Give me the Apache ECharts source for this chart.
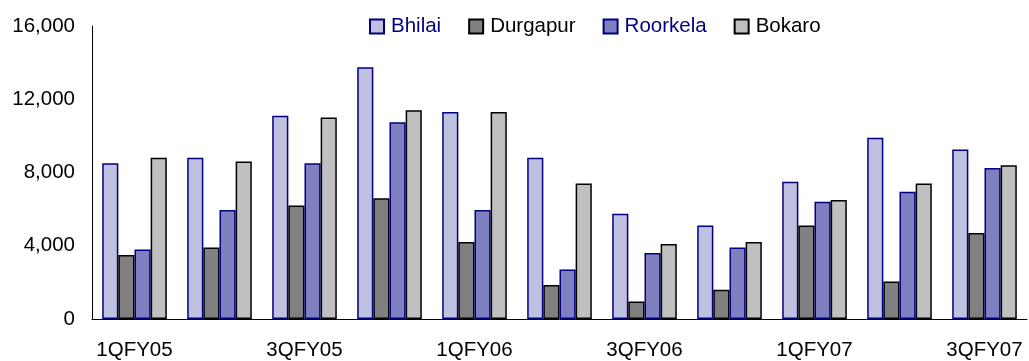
<!DOCTYPE html>
<html>
<head>
<meta charset="utf-8">
<script src="https://cdn.jsdelivr.net/npm/echarts@6/dist/echarts.min.js"></script>
<style>
  html, body { margin: 0; padding: 0; background: #fff; }
  #chart { width: 1029px; height: 361px; }
</style>
</head>
<body>
<div id="chart"></div>
<script>
// Quarterly output by plant
const quarters = ['1QFY05', '2QFY05', '3QFY05', '4QFY05', '1QFY06', '2QFY06',
                  '3QFY06', '4QFY06', '1QFY07', '2QFY07', '3QFY07'];
const bhilai   = [8500, 8800, 11100, 13750, 11300, 8800, 5750, 5100, 7500, 9900, 9250];
const durgapur = [3500, 3900, 6200, 6600, 4200, 1850, 950, 1600, 5100, 2050, 4700];
const roorkela = [3800, 5950, 8500, 10750, 5950, 2700, 3600, 3900, 6400, 6950, 8250];
const bokaro   = [8800, 8600, 11000, 11400, 11300, 7400, 4100, 4200, 6500, 7400, 8400];
const yTicks = [0, 4000, 8000, 12000, 16000];

const FONT = '"Liberation Sans", Arial, sans-serif';
const FS = 20.5;
const NAVY = '#000080';

const plants = [
  { name: 'Bhilai',   data: bhilai,   fill: '#C0C0E0', edge: NAVY,   text: NAVY },
  { name: 'Durgapur', data: durgapur, fill: '#808080', edge: '#000', text: '#000' },
  { name: 'Roorkela', data: roorkela, fill: '#8080C0', edge: NAVY,   text: NAVY },
  { name: 'Bokaro',   data: bokaro,   fill: '#C0C0C0', edge: '#000', text: '#000' }
];

const chart = echarts.init(document.getElementById('chart'), null, { renderer: 'canvas' });

chart.setOption({
  animation: false,
  backgroundColor: '#fff',
  textStyle: { fontFamily: FONT },
  legend: {
    left: 369,
    top: 16,
    padding: 0,
    itemWidth: 14,
    itemHeight: 14,
    itemGap: 27,
    icon: 'rect',
    selectedMode: false,
    textStyle: { fontFamily: FONT, fontSize: FS, padding: [0, 0, 0, 2] },
    data: plants.map(p => ({ name: p.name, textStyle: { color: p.text } }))
  },
  grid: { left: 92, right: 2, top: 26, bottom: 42, containLabel: false },
  xAxis: {
    type: 'category',
    data: quarters,
    axisLine: { show: true, lineStyle: { color: '#000', width: 1 } },
    axisTick: { show: false },
    axisLabel: { interval: 1, margin: 21, color: '#000', fontSize: FS, fontFamily: FONT },
    splitLine: { show: false }
  },
  yAxis: {
    type: 'value',
    min: yTicks[0],
    max: yTicks[yTicks.length - 1],
    interval: yTicks[1] - yTicks[0],
    axisLine: { show: true, lineStyle: { color: '#000', width: 1 } },
    axisTick: { show: false },
    splitLine: { show: false },
    axisLabel: {
      margin: 17, color: '#000', fontSize: FS, fontFamily: FONT,
      formatter: v => v.toLocaleString('en-US')
    }
  },
  series: plants.map(p => ({
    name: p.name,
    type: 'bar',
    data: p.data,
    barGap: '0%',
    barCategoryGap: '24%',
    itemStyle: { color: p.fill, borderColor: p.edge, borderWidth: 1.5 }
  }))
});
</script>
</body>
</html>
